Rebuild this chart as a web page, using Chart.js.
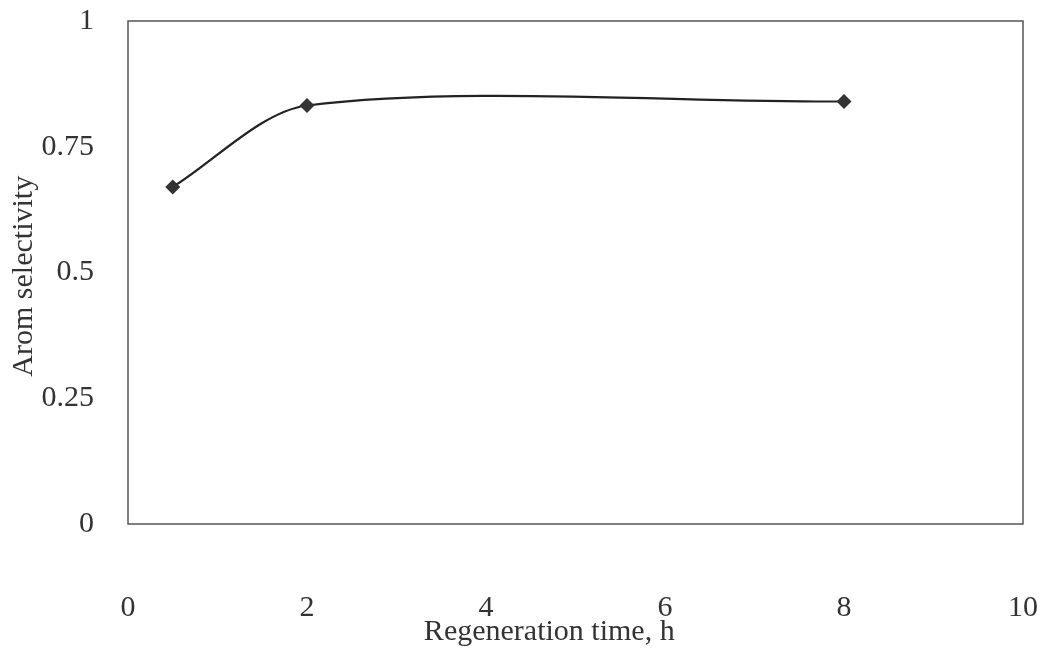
<!DOCTYPE html>
<html>
<head>
<meta charset="utf-8">
<script src="https://cdn.jsdelivr.net/npm/chart.js@4"></script>
<style>
  body { margin: 0; background: #fff; }
  #wrap { width: 1044px; height: 650px; }
</style>
</head>
<body>
<div id="wrap"><canvas id="myChart"></canvas></div>
<script>
// data
const hours = [0.5, 2, 8];
const selectivity = [0.670, 0.832, 0.840];
const xTicks = [0, 2, 4, 6, 8, 10];
const yTicks = [0, 0.25, 0.5, 0.75, 1];

const ink = '#333';
const font = "'Liberation Serif', 'Times New Roman', serif";
// trailing no-break spaces nudge the titles the way the original sits
const pad = n => '\u00a0'.repeat(n);

// box round the plot area
const frame = {
    id: 'frame',
    afterDraw(chart) {
        const { ctx, chartArea: a } = chart;
        ctx.save();
        ctx.strokeStyle = '#555';
        ctx.lineWidth = 1.5;
        ctx.strokeRect(a.left, a.top, a.right - a.left, a.bottom - a.top);
        ctx.restore();
    }
};

const data = {
    datasets: [{
        data: hours.map((h, i) => ({ x: h, y: selectivity[i] })),
        borderColor: '#222',
        borderWidth: 2.2,
        backgroundColor: '#333',
        pointStyle: 'rectRot',
        pointRadius: 7.5,
        pointBorderWidth: 0,
        tension: 0.3
    }]
};

const options = {
    responsive: false,
    animation: false,
    layout: { padding: { left: 0, right: 21, top: 21, bottom: 0 } },
    plugins: {
        legend: { display: false },
        tooltip: { enabled: false }
    },
    scales: {
        x: {
            type: 'linear',
            min: 0,
            max: 10,
            afterBuildTicks: s => { s.ticks = xTicks.map(v => ({ value: v })); },
            afterFit: s => { s.height = 126; s.paddingLeft = 0; s.paddingRight = 0; },
            grid: { display: false, drawTicks: false },
            border: { display: false },
            ticks: { color: ink, font: { family: font, size: 30 }, padding: 66, callback: v => String(v) },
            title: {
                display: true,
                text: 'Regeneration time, h' + pad(7),
                color: ink,
                font: { family: font, size: 30 },
                padding: { top: 0, bottom: 0 }
            }
        },
        y: {
            min: 0,
            max: 1,
            afterBuildTicks: s => { s.ticks = yTicks.map(v => ({ value: v })); },
            afterFit: s => { s.width = 128; s.paddingTop = 0; s.paddingBottom = 0; },
            grid: { display: false, drawTicks: false },
            border: { display: false },
            ticks: { color: ink, font: { family: font, size: 30 }, padding: 34, callback: v => String(v) },
            title: {
                display: true,
                text: 'Arom selectivity' + pad(1),
                color: ink,
                font: { family: font, size: 30 },
                padding: { top: 6, bottom: 0 }
            }
        }
    }
};

const config = {
    type: 'line',
    data,
    options,
    plugins: [frame]
};

const canvas = document.getElementById('myChart');
canvas.width = 1044;
canvas.height = 650;
const myChart = new Chart(canvas, config);
</script>
</body>
</html>
